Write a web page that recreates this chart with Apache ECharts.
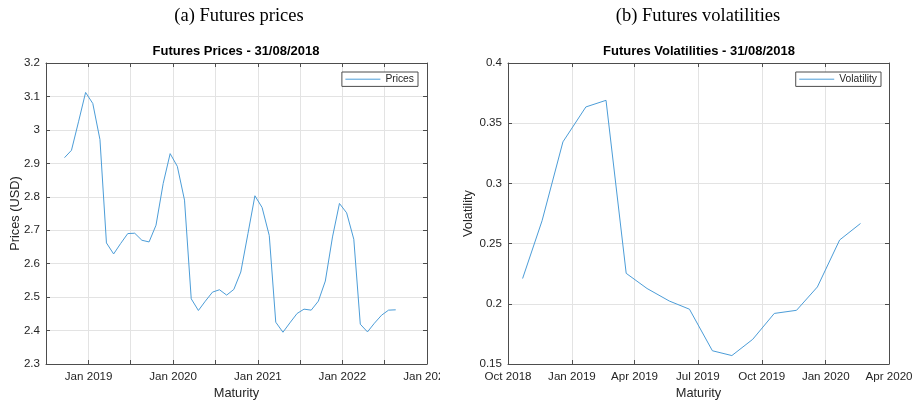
<!DOCTYPE html>
<html>
<head>
<meta charset="utf-8">
<script src="https://cdn.jsdelivr.net/npm/echarts@6/dist/echarts.min.js"></script>
<style>
  html, body { margin: 0; padding: 0; background: #fff; }
  #wrap { position: relative; width: 918px; height: 405px; overflow: hidden; }
  #pricesChart { position: absolute; left: 0; top: 0; width: 440px; height: 405px; }
  #volChart { position: absolute; left: 440px; top: 0; width: 478px; height: 405px; }
</style>
</head>
<body>
<div id="wrap">
  <div id="pricesChart"></div>
  <div id="volChart"></div>
</div>
<script>
// Monthly futures maturities and settlement prices (USD)
const priceDates = [
  '2018-09-19', '2018-10-19', '2018-11-19', '2018-12-19',
  '2019-01-19', '2019-02-19', '2019-03-19', '2019-04-19', '2019-05-19', '2019-06-19',
  '2019-07-19', '2019-08-19', '2019-09-19', '2019-10-19', '2019-11-19', '2019-12-19',
  '2020-01-19', '2020-02-19', '2020-03-19', '2020-04-19', '2020-05-19', '2020-06-19',
  '2020-07-19', '2020-08-19', '2020-09-19', '2020-10-19', '2020-11-19', '2020-12-19',
  '2021-01-19', '2021-02-19', '2021-03-19', '2021-04-19', '2021-05-19', '2021-06-19',
  '2021-07-19', '2021-08-19', '2021-09-19', '2021-10-19', '2021-11-19', '2021-12-19',
  '2022-01-19', '2022-02-19', '2022-03-19', '2022-04-19', '2022-05-19', '2022-06-19',
  '2022-07-19', '2022-08-19'
];
const prices = [
  2.917, 2.939, 3.026, 3.112,
  3.079, 2.971, 2.662, 2.629, 2.660, 2.690,
  2.691, 2.670, 2.665, 2.715, 2.840, 2.929,
  2.891, 2.790, 2.495, 2.460, 2.488, 2.515,
  2.522, 2.506, 2.523, 2.575, 2.690, 2.803,
  2.768, 2.684, 2.425, 2.395, 2.423, 2.451,
  2.464, 2.461, 2.488, 2.548, 2.680, 2.780,
  2.752, 2.673, 2.419, 2.396, 2.422, 2.446,
  2.461, 2.462
];

// Option expiries and implied volatilities
const volDates = [
  '2018-10-22', '2018-11-19', '2018-12-19', '2019-01-21', '2019-02-19', '2019-03-20',
  '2019-04-19', '2019-05-21', '2019-06-19', '2019-07-22', '2019-08-19', '2019-09-18',
  '2019-10-19', '2019-11-20', '2019-12-20', '2020-01-21', '2020-02-20'
];
const vols = [
  0.221, 0.269, 0.3345, 0.3635, 0.369, 0.2253,
  0.2127, 0.2023, 0.1955, 0.161, 0.157, 0.1705,
  0.192, 0.1946, 0.214, 0.253, 0.2667
];

// Axis ticks (grid lines) and labelled ticks
const priceTickDates = ['2018-07-01', '2019-01-01', '2019-07-01', '2020-01-01', '2020-07-01',
  '2021-01-01', '2021-07-01', '2022-01-01', '2022-07-01', '2023-01-01'];
const priceLabelDates = ['2019-01-01', '2020-01-01', '2021-01-01', '2022-01-01', '2023-01-01'];
const volTickDates = ['2018-10-01', '2019-01-01', '2019-04-01', '2019-07-01', '2019-10-01',
  '2020-01-01', '2020-04-01'];
const monthNames = ['Jan', 'Feb', 'Mar', 'Apr', 'May', 'Jun', 'Jul', 'Aug', 'Sep', 'Oct', 'Nov', 'Dec'];

const SANS = "'Liberation Sans', Arial, Helvetica, sans-serif";
const SERIF = "'Liberation Serif', 'Times New Roman', serif";
const AXIS_COLOR = '#4d4d4d';
const TEXT_COLOR = '#262626';
const GRID_COLOR = '#e3e3e3';
const LINE_COLOR = '#4c9dd8';

// ISO date string -> UTC timestamp (ms)
function ts(s) {
  return Date.parse(s + 'T00:00:00Z');
}

function dateLabel(v) {
  const d = new Date(Math.round(v));
  return monthNames[d.getUTCMonth()] + ' ' + d.getUTCFullYear();
}

function buildOption(cfg) {
  const boxAxis = {
    show: true, lineStyle: { color: AXIS_COLOR, width: 1 }, onZero: false
  };
  const tickValues = cfg.tickDates.map(ts);
  const labelValues = cfg.labelDates.map(ts);
  const xTick = {
    show: true, inside: true, length: 4, lineStyle: { color: AXIS_COLOR, width: 1 },
    customValues: tickValues
  };
  const xMin = ts(cfg.xMin);
  const xMax = ts(cfg.xMax);
  return {
    animation: false,
    backgroundColor: '#fff',
    title: [
      {
        text: cfg.caption, left: cfg.captionX, textAlign: 'center', top: 7, padding: 0,
        textStyle: { fontFamily: SERIF, fontWeight: 'normal', fontSize: 18.5, color: '#000' }
      },
      {
        text: cfg.title, left: cfg.titleX, textAlign: 'center', top: 45, padding: 0,
        textStyle: { fontFamily: SANS, fontWeight: 'bold', fontSize: 13, color: '#000' }
      }
    ],
    grid: {
      left: cfg.grid.left, right: cfg.grid.right, top: 63, bottom: 41,
      containLabel: false, outerBoundsMode: 'none'
    },
    legend: {
      data: [cfg.seriesName],
      right: cfg.legendRight, top: 72,
      orient: 'vertical',
      backgroundColor: '#fff',
      borderColor: AXIS_COLOR, borderWidth: 1, borderRadius: 0,
      padding: [2, 4, 2, 3],
      itemWidth: 35, itemHeight: 13,
      itemStyle: { color: 'rgba(0,0,0,0)', borderColor: 'rgba(0,0,0,0)', borderWidth: 0, opacity: 0 },
      lineStyle: { color: LINE_COLOR, width: 1, opacity: 1 },
      textStyle: { fontFamily: SANS, fontSize: 10.3, color: TEXT_COLOR }
    },
    xAxis: [
      {
        type: 'value', min: xMin, max: xMax, position: 'bottom',
        name: 'Maturity', nameLocation: 'middle', nameGap: 23, nameMoveOverlap: false,
        nameTextStyle: { fontFamily: SANS, fontSize: 12.8, color: TEXT_COLOR },
        axisLine: boxAxis,
        axisTick: xTick,
        axisLabel: {
          customValues: labelValues, formatter: dateLabel, margin: 7,
          fontFamily: SANS, fontSize: 11.6, color: TEXT_COLOR, hideOverlap: false,
          showMinLabel: true, showMaxLabel: true
        },
        splitLine: { show: true, lineStyle: { color: GRID_COLOR, width: 1 } }
      },
      {
        type: 'value', min: xMin, max: xMax, position: 'top',
        axisLine: boxAxis, axisTick: xTick,
        axisLabel: { show: false }, splitLine: { show: false }
      }
    ],
    yAxis: [
      {
        type: 'value', min: cfg.yMin, max: cfg.yMax, interval: cfg.yStep, position: 'left',
        name: cfg.yName, nameLocation: 'middle', nameGap: cfg.yNameGap, nameMoveOverlap: false,
        nameTextStyle: { fontFamily: SANS, fontSize: 12.8, color: TEXT_COLOR },
        axisLine: boxAxis,
        axisTick: { show: true, inside: true, length: 4, lineStyle: { color: AXIS_COLOR } },
        axisLabel: { margin: 6, fontFamily: SANS, fontSize: 11.6, color: TEXT_COLOR },
        splitLine: { show: true, lineStyle: { color: GRID_COLOR, width: 1 } }
      },
      {
        type: 'value', min: cfg.yMin, max: cfg.yMax, interval: cfg.yStep, position: 'right',
        axisLine: boxAxis,
        axisTick: { show: true, inside: true, length: 4, lineStyle: { color: AXIS_COLOR } },
        axisLabel: { show: false }, splitLine: { show: false }
      }
    ],
    series: [
      {
        name: cfg.seriesName, type: 'line', xAxisIndex: 0, yAxisIndex: 0,
        data: cfg.dates.map((d, i) => [ts(d), cfg.values[i]]),
        symbol: 'none', showSymbol: false, smooth: false,
        lineStyle: { color: LINE_COLOR, width: 1 },
        itemStyle: { color: LINE_COLOR }
      }
    ]
  };
}

const pricesChart = echarts.init(document.getElementById('pricesChart'), null, { renderer: 'canvas' });
pricesChart.setOption(buildOption({
  caption: '(a) Futures prices', captionX: 239,
  title: 'Futures Prices - 31/08/2018', titleX: 236,
  grid: { left: 46, right: 13 },
  legendRight: 22, seriesName: 'Prices',
  xMin: '2018-07-01', xMax: '2023-01-01',
  tickDates: priceTickDates, labelDates: priceLabelDates,
  yMin: 2.3, yMax: 3.2, yStep: 0.1, yName: 'Prices (USD)', yNameGap: 24,
  dates: priceDates, values: prices
}));

const volChart = echarts.init(document.getElementById('volChart'), null, { renderer: 'canvas' });
volChart.setOption(buildOption({
  caption: '(b) Futures volatilities', captionX: 258,
  title: 'Futures Volatilities - 31/08/2018', titleX: 259,
  grid: { left: 68, right: 29 },
  legendRight: 37, seriesName: 'Volatility',
  xMin: '2018-10-01', xMax: '2020-04-01',
  tickDates: volTickDates, labelDates: volTickDates,
  yMin: 0.15, yMax: 0.4, yStep: 0.05, yName: 'Volatility', yNameGap: 33,
  dates: volDates, values: vols
}));
</script>
</body>
</html>
